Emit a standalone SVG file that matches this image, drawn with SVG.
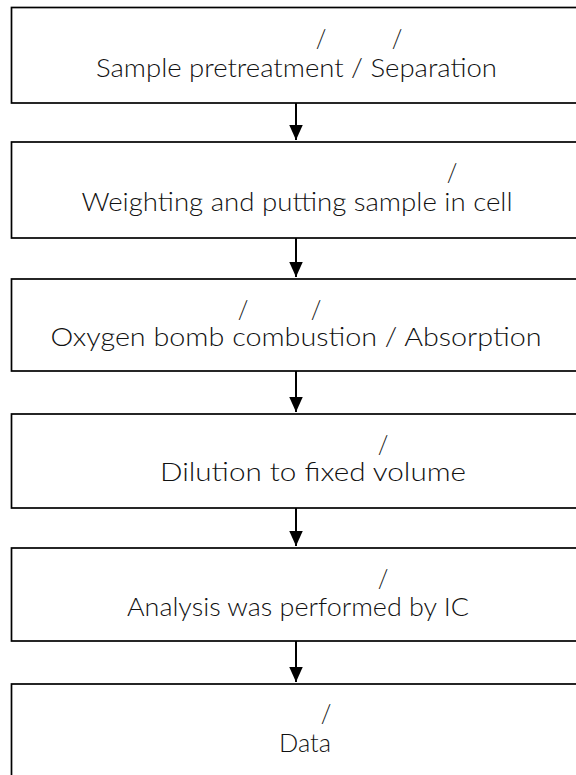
<svg xmlns="http://www.w3.org/2000/svg" width="576" height="775" viewBox="0 0 576 775">
<style>
.box{fill:#ffffff;stroke:#000;stroke-width:1.7}
.t{font-family:"Lato","Open Sans","Liberation Sans",sans-serif;font-weight:300;font-size:24.5px;fill:#111}
.c{text-anchor:middle}
.arr{stroke:#000;stroke-width:2;fill:none;marker-end:url(#ah)}
</style>
<defs>
<marker id="ah" markerUnits="userSpaceOnUse" markerWidth="16" markerHeight="14" refX="15" refY="6.75" orient="auto">
<path d="M0,0 L15,6.75 L0,13.5 Z" fill="#000"/>
</marker>
</defs>
<rect width="576" height="775" fill="#fff"/>
<g id="connectors">
<line class="arr" x1="296" y1="103" x2="296" y2="140"/>
<line class="arr" x1="296" y1="238" x2="296" y2="277"/>
<line class="arr" x1="296" y1="371" x2="296" y2="412"/>
<line class="arr" x1="296" y1="508" x2="296" y2="546"/>
<line class="arr" x1="296" y1="641" x2="296" y2="682"/>
</g>
<g id="n1">
<rect class="box" x="11.5" y="7.5" width="600" height="95.5"/>
<text class="t c" x="321" y="48">/</text>
<text class="t c" x="397" y="48">/</text>
<text class="t c" x="296.5" y="77" textLength="401" lengthAdjust="spacingAndGlyphs">Sample pretreatment / Separation</text>
</g>
<g id="n2">
<rect class="box" x="11.5" y="142" width="600" height="96"/>
<text class="t c" x="452" y="182">/</text>
<text class="t c" x="297" y="211" textLength="431" lengthAdjust="spacingAndGlyphs">Weighting and putting sample in cell</text>
</g>
<g id="n3">
<rect class="box" x="11.5" y="279" width="600" height="92"/>
<text class="t c" x="243" y="319">/</text>
<text class="t c" x="316" y="319">/</text>
<text class="t c" x="296" y="346" textLength="491" lengthAdjust="spacingAndGlyphs">Oxygen bomb combustion / Absorption</text>
</g>
<g id="n4">
<rect class="box" x="11.5" y="414" width="600" height="94"/>
<text class="t c" x="383" y="454">/</text>
<text class="t c" x="313" y="481" textLength="306" lengthAdjust="spacingAndGlyphs">Dilution to fixed volume</text>
</g>
<g id="n5">
<rect class="box" x="11.5" y="548" width="600" height="93"/>
<text class="t c" x="383" y="588">/</text>
<text class="t c" x="298" y="616" textLength="342" lengthAdjust="spacingAndGlyphs">Analysis was performed by IC</text>
</g>
<g id="n6">
<rect class="box" x="11.5" y="684" width="600" height="120"/>
<text class="t c" x="326" y="723">/</text>
<text class="t c" x="305" y="752" textLength="52" lengthAdjust="spacingAndGlyphs">Data</text>
</g>
</svg>
